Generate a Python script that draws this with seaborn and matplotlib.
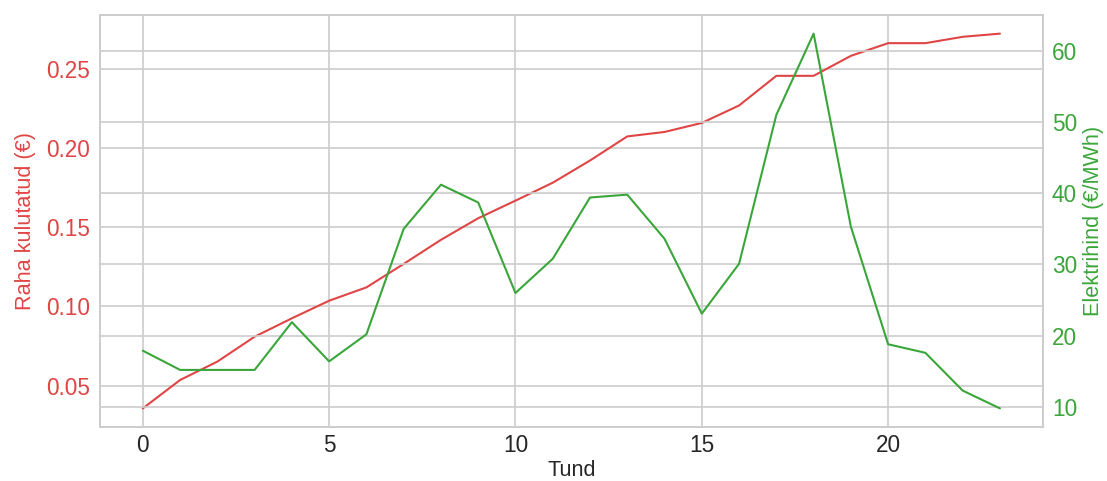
import matplotlib
matplotlib.use("Agg")
import matplotlib.pyplot as plt
import seaborn as sns
import pandas as pd

hours = list(range(24))
money_spent = [0.0357, 0.0536, 0.0652, 0.0809, 0.0925, 0.1036, 0.1120, 0.1268,
               0.1420, 0.1556, 0.1667, 0.1780, 0.1920, 0.2072, 0.2100, 0.2157,
               0.2267, 0.2454, 0.2454, 0.2580, 0.2660, 0.2660, 0.2700, 0.2720]
price = [17.9, 15.2, 15.2, 15.2, 21.9, 16.4, 20.2, 35.0, 41.2, 38.7, 26.0, 30.8,
         39.4, 39.8, 33.6, 23.1, 30.1, 51.0, 62.4, 35.3, 18.8, 17.6, 12.3, 9.8]

sns.set_style("whitegrid")
plt.rcParams['font.family'] = ['Liberation Sans', 'DejaVu Sans']
plt.rcParams['font.size'] = 10.8

df = pd.DataFrame({"Tund": hours, "raha": money_spent, "hind": price})

fig, ax1 = plt.subplots(figsize=(7.38, 3.2067), dpi=150)
fig.subplots_adjust(left=0.0903, right=0.942, top=0.969, bottom=0.112)

red = "#e04545"
green = "#3aa63a"

sns.lineplot(data=df, x="Tund", y="raha", color=red, ax=ax1, linewidth=1.0)
ax1.set_ylabel("Raha kulutatud (€)", color=red, fontsize=10.4, labelpad=5)
ax1.tick_params(axis='y', labelcolor=red, length=0, pad=4.8, labelsize=10.8)
ax1.tick_params(axis='x', length=0, pad=3.4, labelsize=10.8)
ax1.set_xlabel("Tund", fontsize=10.4, labelpad=1.5)
ax1.set_xticks([0, 5, 10, 15, 20])

ax2 = ax1.twinx()
sns.lineplot(data=df, x="Tund", y="hind", color=green, ax=ax2, linewidth=1.0)
ax2.set_ylabel("Elektrihind (€/MWh)", color=green, fontsize=10.4, labelpad=3)
ax2.tick_params(axis='y', labelcolor=green, length=0, pad=4.3, labelsize=10.8)

fig.savefig("out.png", dpi=150)
